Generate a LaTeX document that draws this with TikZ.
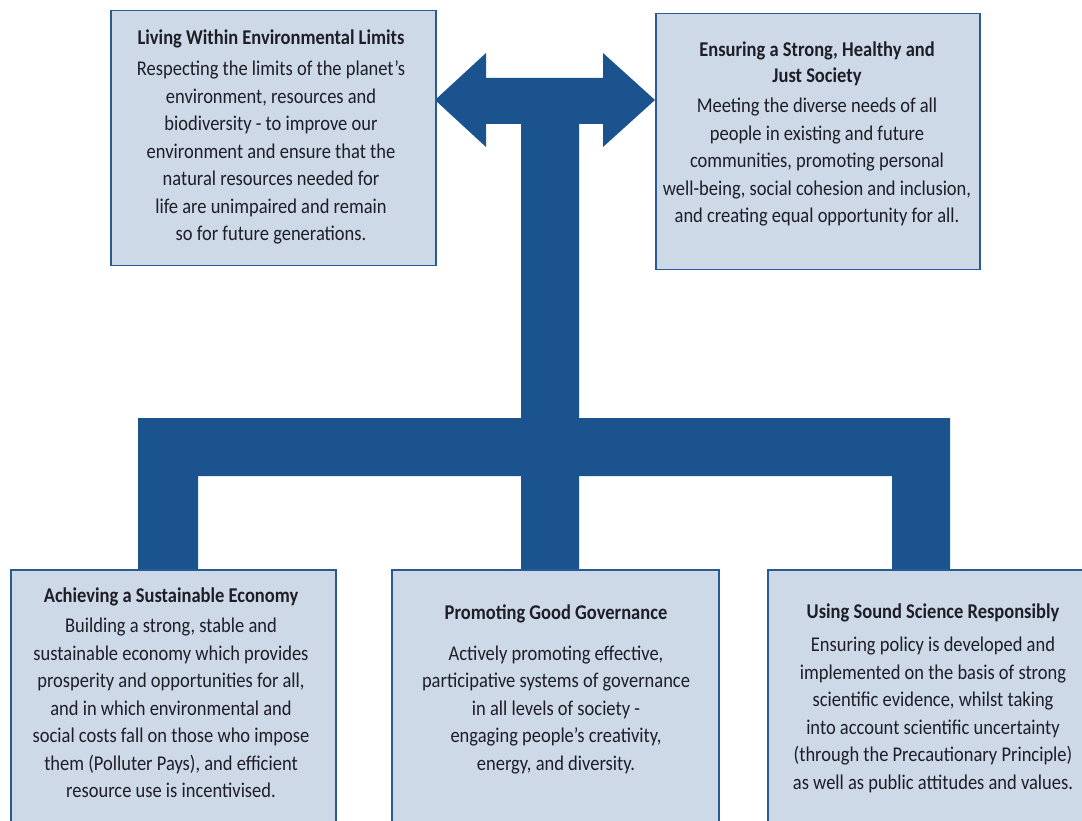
\documentclass[tikz,border=0pt]{standalone}
\usepackage{fontspec}
\setmainfont{Carlito}[FakeStretch=0.88]
\definecolor{boxfill}{RGB}{205,217,230}
\definecolor{boxline}{RGB}{40,90,152}
\definecolor{barblue}{RGB}{27,83,143}
\definecolor{ink}{RGB}{30,30,40}
\begin{document}
\begin{tikzpicture}[x=1pt,y=-1pt,
 box/.style={draw=boxline, line width=1.5pt, fill=boxfill, inner sep=0pt, anchor=north west},
 txt/.style={inner sep=0pt, align=center, text=ink, font=\fontsize{21}{27.5}\selectfont, anchor=north},
]
\useasboundingbox (0,0) rectangle (1082,821);
\clip (0,0) rectangle (1082,821);
\fill[white] (0,0) rectangle (1082,821);

% connector shape
\fill[barblue] (435,100) -- (486,53) -- (486,78) -- (603,78) -- (603,53) -- (655,100) -- (603,147) -- (603,124)
  -- (579,124) -- (579,418) -- (950,418) -- (950,569) -- (892,569) -- (892,476) -- (579,476) -- (579,569)
  -- (521,569) -- (521,476) -- (198,476) -- (198,569) -- (138,569) -- (138,418) -- (521,418) -- (521,124)
  -- (486,124) -- (486,147) -- cycle;

% boxes
\node[box, minimum width=325pt, minimum height=255pt] (b1) at (110,10) {};
\node[box, minimum width=324pt, minimum height=256pt] (b2) at (655,13) {};
\node[box, minimum width=325pt, minimum height=280pt] (b3) at (10,569) {};
\node[box, minimum width=327pt, minimum height=280pt] (b4) at (391,569) {};
\node[box, minimum width=340pt, minimum height=280pt] (b5) at (767,569) {};

% texts
\node[txt] (t1) at (271,30) {\textbf{Living Within Environmental Limits}\\[3.5pt]
Respecting the limits of the planet’s\\
environment, resources and\\
biodiversity - to improve our\\
environment and ensure that the\\
natural resources needed for\\
life are unimpaired and remain\\
so for future generations.};

\node[txt] (t2) at (817,42) {\textbf{Ensuring a Strong, Healthy and}\\[-1.5pt]
\textbf{Just Society}\\[2.5pt]
Meeting the diverse needs of all\\
people in existing and future\\
communities, promoting personal\\
well-being, social cohesion and inclusion,\\
and creating equal opportunity for all.};

\node[txt] (t3) at (171,588) {\textbf{Achieving a Sustainable Economy}\\[2.5pt]
Building a strong, stable and\\
sustainable economy which provides\\
prosperity and opportunities for all,\\
and in which environmental and\\
social costs fall on those who impose\\
them (Polluter Pays), and efficient\\
resource use is incentivised.};

\node[txt] (t4) at (556,605) {\textbf{Promoting Good Governance}\\[13pt]
Actively promoting effective,\\
participative systems of governance\\
in all levels of society -\\
engaging people’s creativity,\\
energy, and diversity.};

\node[txt] (t5) at (933,604) {\textbf{Using Sound Science Responsibly}\\[5.5pt]
Ensuring policy is developed and\\
implemented on the basis of strong\\
scientific evidence, whilst taking\\
into account scientific uncertainty\\
(through the Precautionary Principle)\\
as well as public attitudes and values.};
\end{tikzpicture}
\end{document}
